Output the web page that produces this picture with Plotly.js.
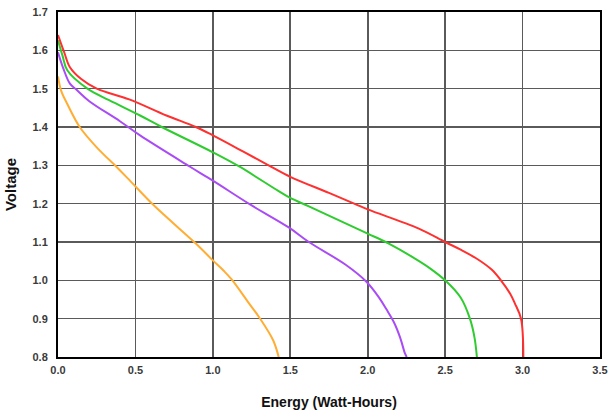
<!DOCTYPE html>
<html>
<head>
<meta charset="utf-8">
<script src="https://cdn.plot.ly/plotly-3.0.1.min.js"></script>
<style>html,body{margin:0;padding:0;background:#fff;}#chart{width:609px;height:419px;}</style>
</head>
<body>
<div id="chart"></div>
<script>
const redX = [0, 0.04, 0.077, 0.15, 0.25, 0.46, 0.7, 0.89, 1.0, 1.2, 1.36, 1.5, 1.75, 1.92, 2.0, 2.33, 2.5, 2.6, 2.71, 2.8, 2.86, 2.92, 2.95, 2.99, 3.005];
const redY = [1.64, 1.595, 1.556, 1.525, 1.50, 1.472, 1.43, 1.40, 1.378, 1.335, 1.30, 1.27, 1.228, 1.199, 1.185, 1.135, 1.10, 1.08, 1.055, 1.028, 1.0, 0.965, 0.94, 0.90, 0.80];
const greenX = [0, 0.03, 0.06, 0.19, 0.33, 0.53, 0.67, 1.0, 1.17, 1.42, 1.5, 1.62, 2.0, 2.13, 2.3, 2.4, 2.5, 2.6, 2.66, 2.69, 2.705];
const greenY = [1.626, 1.585, 1.548, 1.50, 1.47, 1.43, 1.40, 1.334, 1.297, 1.234, 1.215, 1.193, 1.122, 1.097, 1.058, 1.032, 1.0, 0.955, 0.90, 0.85, 0.80];
const purpleX = [0, 0.034, 0.077, 0.12, 0.2, 0.4, 0.53, 0.85, 1.0, 1.24, 1.49, 1.62, 1.86, 1.99, 2.07, 2.12, 2.17, 2.21, 2.24, 2.252];
const purpleY = [1.595, 1.553, 1.513, 1.497, 1.468, 1.415, 1.378, 1.297, 1.26, 1.198, 1.138, 1.10, 1.04, 0.997, 0.957, 0.925, 0.89, 0.85, 0.81, 0.80];
const orangeX = [0, 0.02, 0.06, 0.14, 0.25, 0.38, 0.46, 0.62, 0.89, 1.0, 1.07, 1.12, 1.23, 1.30, 1.39, 1.425];
const orangeY = [1.532, 1.495, 1.46, 1.40, 1.347, 1.295, 1.262, 1.195, 1.096, 1.052, 1.025, 1.003, 0.942, 0.903, 0.843, 0.80];
const xTicks = [0, 0.5, 1.0, 1.5, 2.0, 2.5, 3.0, 3.5];
const xTickText = ['0.0', '0.5', '1.0', '1.5', '2.0', '2.5', '3.0', '3.5'];
const yTicks = [0.8, 0.9, 1.0, 1.1, 1.2, 1.3, 1.4, 1.5, 1.6, 1.7];
const yTickText = ['0.8', '0.9', '1.0', '1.1', '1.2', '1.3', '1.4', '1.5', '1.6', '1.7'];

function series(x, y, color) {
  return {x: x, y: y, type: 'scatter', mode: 'lines',
    line: {color: color, width: 2, shape: 'spline', smoothing: 1},
    hoverinfo: 'none', showlegend: false};
}
const data = [
  series(orangeX, orangeY, '#ffad33'),
  series(purpleX, purpleY, '#a94cf5'),
  series(greenX, greenY, '#2fcc2f'),
  series(redX, redY, '#ff3030')
];
const tickFont = {family: 'Liberation Sans, Arial, sans-serif', size: 11, color: '#3a3a3a', weight: 'bold'};
const layout = {
  width: 609, height: 419,
  margin: {l: 58, r: 9, t: 12, b: 62},
  paper_bgcolor: '#fff', plot_bgcolor: '#fff',
  xaxis: {
    range: [0, 3.5], tickvals: xTicks, ticktext: xTickText,
    showgrid: true, gridcolor: '#5a5a5a', gridwidth: 1.6,
    showline: true, linecolor: '#000', linewidth: 2, mirror: true,
    zeroline: false, ticks: '', tickfont: tickFont, ticklabelstandoff: 2,
    ticklabeloverflow: 'allow',
    title: {text: 'Energy (Watt-Hours)', font: {family: 'Liberation Sans, Arial, sans-serif', size: 14, color: '#111', weight: 'bold'}, standoff: 22}
  },
  yaxis: {
    range: [0.8, 1.7], tickvals: yTicks, ticktext: yTickText,
    showgrid: true, gridcolor: '#5a5a5a', gridwidth: 1.6,
    showline: true, linecolor: '#000', linewidth: 2, mirror: true,
    zeroline: false, ticks: '', tickfont: tickFont, ticklabelstandoff: 6,
    ticklabeloverflow: 'allow',
    title: {text: 'Voltage', font: {family: 'Liberation Sans, Arial, sans-serif', size: 15, color: '#111', weight: 'bold'}, standoff: 12}
  }
};
Plotly.newPlot('chart', data, layout, {staticPlot: true, displayModeBar: false});
</script>
</body>
</html>
